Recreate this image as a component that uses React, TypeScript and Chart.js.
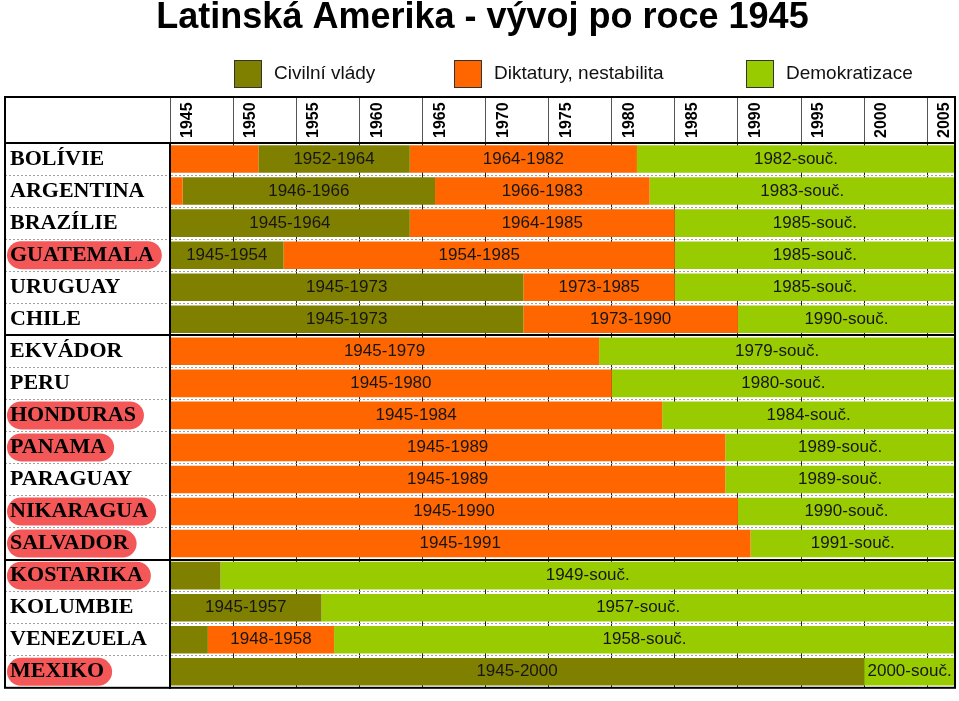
import React, { useEffect, useRef } from 'react';
import { Chart, registerables } from 'chart.js';

Chart.register(...registerables);

const SANS = "'Liberation Sans', Arial, Helvetica, sans-serif";
const SERIF = "'Liberation Serif', 'Times New Roman', serif";

const TITLE = 'Latinská Amerika - vývoj po roce 1945';

const X_MIN = 1945;
const X_MAX = 2007.2;
const PRESENT = 2008;
const YEAR_STEP = 5;

const countries = [
  'BOLÍVIE', 'ARGENTINA', 'BRAZÍLIE', 'GUATEMALA', 'URUGUAY', 'CHILE',
  'EKVÁDOR', 'PERU', 'HONDURAS', 'PANAMA', 'PARAGUAY', 'NIKARAGUA', 'SALVADOR',
  'KOSTARIKA', 'KOLUMBIE', 'VENEZUELA', 'MEXIKO',
];

const highlighted = ['GUATEMALA', 'HONDURAS', 'PANAMA', 'NIKARAGUA', 'SALVADOR', 'KOSTARIKA', 'MEXIKO'];

// first rows of each group (a thick line is drawn above them)
const groupStarts = ['BOLÍVIE', 'EKVÁDOR', 'KOSTARIKA'];

// start year of each period; the last period runs to the present
const periodStarts = [
  [1945, 1952, 1964, 1982],
  [1945, 1946, 1966, 1983],
  [1945, 1964, 1985],
  [1945, 1954, 1985],
  [1945, 1973, 1985],
  [1945, 1973, 1990],
  [1945, 1979],
  [1945, 1980],
  [1945, 1984],
  [1945, 1989],
  [1945, 1989],
  [1945, 1990],
  [1945, 1991],
  [1945, 1949],
  [1945, 1957],
  [1945, 1948, 1958],
  [1945, 2000],
];

// C = civilní vlády, D = diktatury, R = demokratizace
const periodKinds = [
  ['D', 'C', 'D', 'R'],
  ['D', 'C', 'D', 'R'],
  ['C', 'D', 'R'],
  ['C', 'D', 'R'],
  ['C', 'D', 'R'],
  ['C', 'D', 'R'],
  ['D', 'R'],
  ['D', 'R'],
  ['D', 'R'],
  ['D', 'R'],
  ['D', 'R'],
  ['D', 'R'],
  ['D', 'R'],
  ['C', 'R'],
  ['C', 'R'],
  ['C', 'D', 'R'],
  ['C', 'R'],
];

const periodLabels = [
  ['', '1952-1964', '1964-1982', '1982-souč.'],
  ['', '1946-1966', '1966-1983', '1983-souč.'],
  ['1945-1964', '1964-1985', '1985-souč.'],
  ['1945-1954', '1954-1985', '1985-souč.'],
  ['1945-1973', '1973-1985', '1985-souč.'],
  ['1945-1973', '1973-1990', '1990-souč.'],
  ['1945-1979', '1979-souč.'],
  ['1945-1980', '1980-souč.'],
  ['1945-1984', '1984-souč.'],
  ['1945-1989', '1989-souč.'],
  ['1945-1989', '1989-souč.'],
  ['1945-1990', '1990-souč.'],
  ['1945-1991', '1991-souč.'],
  ['', '1949-souč.'],
  ['1945-1957', '1957-souč.'],
  ['', '1948-1958', '1958-souč.'],
  ['1945-2000', '2000-souč.'],
];

const legendKinds = ['C', 'D', 'R'];
const legendNames = ['Civilní vlády', 'Diktatury, nestabilita', 'Demokratizace'];

const kindColors: Record<string, string> = { C: '#808000', D: '#ff6600', R: '#99cc00' };

const maxPeriods = Math.max(...periodStarts.map((p) => p.length));

const datasets = Array.from({ length: maxPeriods }, (_, j) => ({
  label: 'period' + j,
  data: countries.map((_, i) => {
    const s = periodStarts[i][j];
    if (s === undefined) return null;
    const e = periodStarts[i][j + 1] ?? PRESENT;
    return [s, e];
  }),
  backgroundColor: countries.map((_, i) => kindColors[periodKinds[i][j]] ?? 'rgba(0,0,0,0)'),
  borderWidth: 0,
  barPercentage: 0.86,
  categoryPercentage: 1,
  grouped: false,
}));

const isGroupLine = (ctx: any) =>
  ctx && typeof ctx.index === 'number' && groupStarts.includes(countries[ctx.index]);

const pillPlugin = {
  id: 'pills',
  beforeDraw(chart: any) {
    const ys = chart.scales.y;
    const ctx = chart.ctx;
    ctx.save();
    ctx.font = `bold 22px ${SERIF}`;
    ctx.fillStyle = '#f35757';
    countries.forEach((name, i) => {
      if (!highlighted.includes(name)) return;
      const y = ys.getPixelForValue(i);
      const w = ctx.measureText(name).width;
      ctx.beginPath();
      ctx.roundRect(ys.left - 3, y - 14, w + 11, 28, 14);
      ctx.fill();
    });
    ctx.restore();
  },
};

const barLabelPlugin = {
  id: 'barLabels',
  afterDatasetsDraw(chart: any) {
    const ctx = chart.ctx;
    const area = chart.chartArea;
    ctx.save();
    ctx.font = `17px ${SANS}`;
    ctx.fillStyle = '#161616';
    ctx.textAlign = 'center';
    ctx.textBaseline = 'middle';
    datasets.forEach((_, j) => {
      const meta = chart.getDatasetMeta(j);
      meta.data.forEach((el: any, i: number) => {
        const lbl = periodLabels[i][j];
        if (!lbl) return;
        const { x, base, y } = el.getProps(['x', 'base', 'y'], true);
        const l = Math.max(Math.min(x, base), area.left);
        const r = Math.min(Math.max(x, base), area.right);
        ctx.fillText(lbl, (l + r) / 2, y);
      });
    });
    ctx.restore();
  },
};

const framePlugin = {
  id: 'frameLegend',
  afterDraw(chart: any) {
    const ctx = chart.ctx;
    const xs = chart.scales.x;
    const ys = chart.scales.y;
    const area = chart.chartArea;
    ctx.save();
    // table frame
    ctx.strokeStyle = '#000';
    ctx.lineWidth = 2;
    ctx.strokeRect(ys.left - 5, xs.top, area.right - (ys.left - 5), area.bottom - xs.top);
    // legend
    const lx = [234, 454, 746];
    const top = 60;
    const size = 28;
    ctx.font = `19px ${SANS}`;
    ctx.textBaseline = 'middle';
    ctx.textAlign = 'left';
    legendKinds.forEach((k, i) => {
      ctx.fillStyle = kindColors[k];
      ctx.fillRect(lx[i], top, size, size);
      ctx.lineWidth = 1;
      ctx.strokeStyle = '#333';
      ctx.strokeRect(lx[i] + 0.5, top + 0.5, size - 1, size - 1);
      ctx.fillStyle = '#111';
      ctx.fillText(legendNames[i], lx[i] + size + 12, top + size / 2);
    });
    ctx.restore();
  },
};

export default function App() {
  const ref = useRef<HTMLCanvasElement>(null);
  useEffect(() => {
    document.body.style.margin = '0';
    const chart = new Chart(ref.current as HTMLCanvasElement, {
      type: 'bar',
      data: { labels: countries, datasets: datasets as any },
      plugins: [pillPlugin, barLabelPlugin, framePlugin],
      options: {
        indexAxis: 'y',
        responsive: false,
        animation: false,
        devicePixelRatio: 1,
        layout: { padding: { left: 10, right: 4, top: 0, bottom: 4 } },
        plugins: {
          legend: { display: false },
          tooltip: { enabled: false },
          title: {
            display: true,
            text: TITLE,
            color: '#000',
            font: { family: SANS, size: 36, weight: 'bold', lineHeight: 1 },
            padding: { top: 0, bottom: 61 },
          },
        },
        scales: {
          x: {
            type: 'linear',
            position: 'top',
            min: X_MIN,
            max: X_MAX,
            afterFit: (s: any) => {
              s.height = 46;
            },
            ticks: {
              stepSize: YEAR_STEP,
              autoSkip: false,
              minRotation: 90,
              maxRotation: 90,
              padding: -41,
              labelOffset: 37,
              color: '#000',
              font: { family: SANS, size: 16, weight: 'bold' },
              callback: (v: any) => (Number(v) % YEAR_STEP === 0 ? String(v) : ''),
            },
            grid: {
              color: '#222',
              lineWidth: 1,
              drawTicks: true,
              tickLength: 46,
              tickColor: '#555',
            },
            border: { display: true, color: '#000', width: 2, z: 1 },
          },
          y: {
            type: 'category',
            afterFit: (s: any) => {
              s.width = 160;
            },
            ticks: {
              crossAlign: 'far',
              autoSkip: false,
              padding: 0,
              color: '#000',
              font: { family: SERIF, size: 22, weight: 'bold' },
            },
            grid: {
              offset: true,
              color: (c: any) => (isGroupLine(c) ? '#000' : '#a0a0a0'),
              lineWidth: (c: any) => (isGroupLine(c) ? 2 : 1),
              tickLength: 165,
              tickColor: (c: any) => (isGroupLine(c) ? '#000' : '#a0a0a0'),
              tickWidth: (c: any) => (isGroupLine(c) ? 2 : 1),
              tickBorderDash: (c: any) => (isGroupLine(c) ? [] : [2, 2]),
            },
            border: {
              display: true,
              color: '#000',
              width: 2,
              z: 1,
              dash: (c: any) => (isGroupLine(c) ? [] : [2, 2]),
            },
          },
        },
      } as any,
    });
    return () => chart.destroy();
  }, []);
  return (
    <div style={{ width: 959, height: 701 }}>
      <canvas ref={ref} width={959} height={701} style={{ display: 'block' }} />
    </div>
  );
}
